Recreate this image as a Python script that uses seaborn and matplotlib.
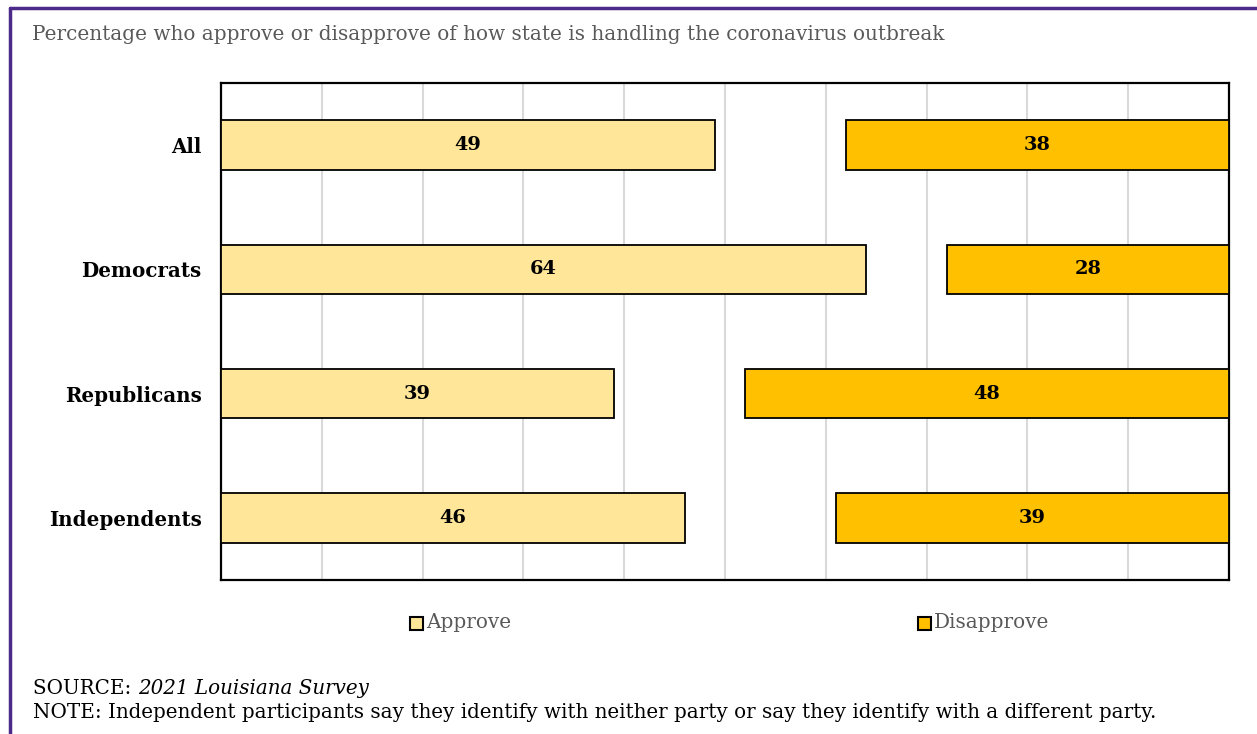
import matplotlib
matplotlib.use("Agg")
import matplotlib.pyplot as plt
import seaborn as sns
import pandas as pd
import numpy as np
from matplotlib.patches import Rectangle
from matplotlib.lines import Line2D

categories = ["All", "Democrats", "Republicans", "Independents"]
approve = [49, 64, 39, 46]
disapprove = [38, 28, 48, 39]
series_names = ["Approve", "Disapprove"]
colors = ["#FFE699", "#FFC000"]
title = "Percentage who approve or disapprove of how state is handling the coronavirus outbreak"
source_label = "SOURCE: "
source_title = "2021 Louisiana Survey"
note = "NOTE: Independent participants say they identify with neither party or say they identify with a different party."

sns.set_theme(style="white")
plt.rcParams['font.family'] = ['DejaVu Serif', 'Liberation Serif']

W, H = 1257, 734
fig = plt.figure(figsize=(W / 100, H / 100), dpi=100)
ax = fig.add_axes([221 / W, 1 - 580 / H, (1229 - 221) / W, (580 - 83) / H])
renderer = fig.canvas.get_renderer()


def fit(t, target_px):
    w = t.get_window_extent(renderer).width
    t.set_fontsize(t.get_fontsize() * target_px / w)
    return t.get_fontsize()


df = pd.DataFrame({"category": categories, "approve": approve, "disapprove": disapprove})
sns.barplot(data=df, x="approve", y="category", orient="h", color=colors[0],
            edgecolor="black", linewidth=1.3, width=0.4, ax=ax, saturation=1, zorder=3)
dis = np.array(disapprove)
ax.barh(np.arange(len(categories)), dis, left=100 - dis, height=0.4,
        color=colors[1], edgecolor="black", linewidth=1.3, zorder=3)

# bar label size fit on "49" (~27 px wide)
probe = fig.text(0, 0, "49", fontsize=16, fontweight="bold")
lab_fs = fit(probe, 27)
probe.remove()

for i, (a, d) in enumerate(zip(approve, disapprove)):
    ax.text(a / 2, i, str(a), ha="center", va="center", fontsize=lab_fs,
            fontweight="bold", color="black", zorder=4)
    ax.text(100 - d / 2, i, str(d), ha="center", va="center", fontsize=lab_fs,
            fontweight="bold", color="black", zorder=4)

ax.set_xlim(0, 100)
ax.set_ylim(3.5, -0.5)
ax.set_xticks(np.arange(0, 101, 10))
ax.set_xticklabels([])
ax.tick_params(axis="x", length=0)
ax.yaxis.grid(False)
ax.xaxis.grid(True, color="#D9D9D9", linewidth=1.5, zorder=0)
ax.set_axisbelow(True)

probe = fig.text(0, 0, "Independents", fontsize=15, fontweight="bold")
ylab_fs = fit(probe, 153)
probe.remove()
ax.tick_params(axis="y", length=0, pad=14)
for lab in ax.get_yticklabels():
    lab.set_fontweight("bold")
    lab.set_fontsize(ylab_fs)
    lab.set_color("black")
ax.set_xlabel("")
ax.set_ylabel("")
for s in ax.spines.values():
    s.set_visible(True)
    s.set_color("black")
    s.set_linewidth(1.6)

# outer purple frame (left and top)
fig.add_artist(Line2D([10 / W, 10 / W], [0, 1 - 8 / H], transform=fig.transFigure,
                      color="#4B2A8A", linewidth=2.5))
fig.add_artist(Line2D([10 / W, 1], [1 - 8 / H, 1 - 8 / H], transform=fig.transFigure,
                      color="#4B2A8A", linewidth=2.5))

t = fig.text(32 / W, 1 - 34 / H, title, fontsize=14, color="#595959", va="center", ha="left")
fit(t, 913)

# legend
leg_targets = [85, 115]
for name, col, x0, tw in zip(series_names, colors, [410, 918], leg_targets):
    fig.add_artist(Rectangle((x0 / W, 1 - 630 / H), 13 / W, 13 / H, transform=fig.transFigure,
                             facecolor=col, edgecolor="black", linewidth=1.5))
    lt = fig.text((x0 + 16) / W, 1 - 623 / H, name, fontsize=14, color="#595959",
                  va="center", ha="left")
    fit(lt, tw)

nt = fig.text(33 / W, 1 - 712 / H, note, fontsize=14, color="black", va="center", ha="left")
note_fs = fit(nt, 1124)
t = fig.text(33 / W, 1 - 688 / H, source_label, fontsize=note_fs, color="black", va="center", ha="left")
bb = t.get_window_extent(renderer)
fig.text(bb.x1 / W, 1 - 688 / H, source_title, fontsize=note_fs, color="black", va="center",
         ha="left", style="italic")

fig.savefig("out.png", dpi=100)
